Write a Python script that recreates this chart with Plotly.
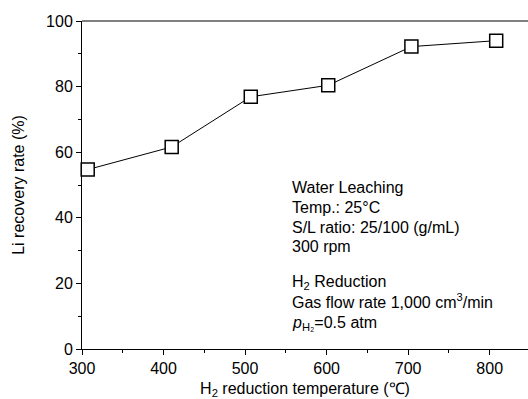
import plotly.graph_objects as go

temps = [307, 410, 507, 602, 704, 808]
recovery = [54.7, 61.6, 76.9, 80.4, 92.2, 94.0]
x_ticks = [300, 400, 500, 600, 700, 800]
y_ticks = [0, 20, 40, 60, 80, 100]
note_lines = [
    "Water Leaching",
    "Temp.: 25°C",
    "S/L ratio: 25/100 (g/mL)",
    "300 rpm",
    "H<sub>2</sub> Reduction",
    "Gas flow rate 1,000 cm<sup>3</sup>/min",
    "<i>p</i><sub>H₂</sub>=0.5 atm",
]
note_y = [49.1, 43.0, 37.0, 31.4, 20.4, 14.5, 7.8]

FONT = "Liberation Sans, Arial"

fig = go.Figure()
fig.add_trace(go.Scatter(
    x=temps, y=recovery, mode="lines+markers",
    line=dict(color="black", width=1),
    marker=dict(symbol="square", size=13, color="white",
                line=dict(color="black", width=1.5)),
    showlegend=False, cliponaxis=False,
))

for t, yy in zip(note_lines, note_y):
    fig.add_annotation(x=555, y=yy, xref="x", yref="y", text=t,
                       showarrow=False, xanchor="left", yanchor="middle",
                       font=dict(family=FONT, size=16, color="black"))

axis_common = dict(showgrid=False, zeroline=False, showline=True, linecolor="black",
                   linewidth=1, ticks="outside", ticklen=5, tickcolor="black",
                   tickfont=dict(family=FONT, size=16, color="black"),
                   mirror=False)

fig.update_xaxes(range=[300, 847], tickvals=x_ticks, **axis_common,
                 minor=dict(ticks="outside", ticklen=3, dtick=50, tick0=300, tickcolor="black"),
                 title=dict(text="H<sub>2</sub> reduction temperature (℃)",
                            font=dict(family=FONT, size=16, color="black"),
                            standoff=6))
fig.update_yaxes(range=[0, 100], tickvals=y_ticks, **axis_common,
                 minor=dict(ticks="outside", ticklen=3, dtick=10, tick0=0, tickcolor="black"),
                 title=dict(text="Li recovery rate (%)",
                            font=dict(family=FONT, size=16, color="black"),
                            standoff=17))

fig.add_shape(type="line", xref="paper", yref="paper", x0=0, x1=1, y0=1, y1=1,
              line=dict(color="black", width=1))

fig.update_layout(
    width=528, height=399,
    margin=dict(l=82, r=0, t=21, b=50),
    plot_bgcolor="white", paper_bgcolor="white",
    font=dict(family=FONT, color="black"),
)

fig.write_html("out.html")
